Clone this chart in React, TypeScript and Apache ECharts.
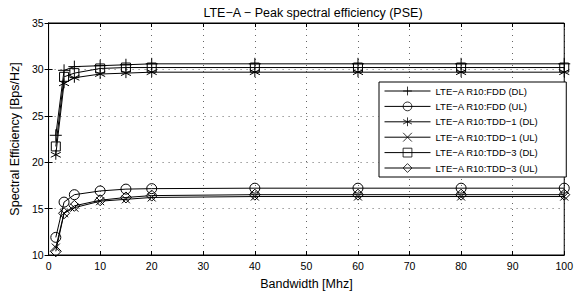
import React, { useEffect, useRef } from "react";
import * as echarts from "echarts";

const bandwidth = [1.4, 3, 5, 10, 15, 20, 40, 60, 80, 100];
const fddDL = [22.9, 29.9, 30.3, 30.4, 30.5, 30.6, 30.6, 30.6, 30.6, 30.6];
const fddUL = [11.9, 15.7, 16.5, 16.9, 17.1, 17.15, 17.2, 17.2, 17.2, 17.2];
const tdd1DL = [20.8, 28.5, 29.1, 29.5, 29.6, 29.7, 29.7, 29.7, 29.7, 29.7];
const tdd1UL = [10.8, 14.5, 15.1, 15.8, 16.0, 16.2, 16.3, 16.3, 16.3, 16.3];
const tdd3DL = [21.7, 29.2, 29.6, 30.1, 30.2, 30.2, 30.2, 30.2, 30.2, 30.2];
const tdd3UL = [10.4, 14.5, 15.3, 15.9, 16.2, 16.4, 16.5, 16.5, 16.5, 16.5];

const seriesNames = [
  "LTE\u2212A R10:FDD (DL)",
  "LTE\u2212A R10:FDD (UL)",
  "LTE\u2212A R10:TDD\u22121 (DL)",
  "LTE\u2212A R10:TDD\u22121 (UL)",
  "LTE\u2212A R10:TDD\u22123 (DL)",
  "LTE\u2212A R10:TDD\u22123 (UL)",
];
const seriesValues = [fddDL, fddUL, tdd1DL, tdd1UL, tdd3DL, tdd3UL];

const PLUS = "path://M0,-1L0,1M-1,0L1,0";
const CIRCLE = "path://M1,0A1,1 0 1 1 -1,0A1,1 0 1 1 1,0Z";
const STAR = "path://M0,-1L0,1M-0.87,-0.5L0.87,0.5M-0.87,0.5L0.87,-0.5";
const XMARK = "path://M-1,-1L1,1M-1,1L1,-1";
const SQUARE = "path://M-1,-1L1,-1L1,1L-1,1Z";
const DIAMOND = "path://M0,-1L1,0L0,1L-1,0Z";
const symbols = [PLUS, CIRCLE, STAR, XMARK, SQUARE, DIAMOND];
const symbolSizes = [12, 10, 10, 8, 9, 11];

const FONT = "Liberation Sans";

export default function App() {
  const ref = useRef<HTMLDivElement>(null);
  useEffect(() => {
    if (!ref.current) return;
    const chart = echarts.init(ref.current, null, { renderer: "svg" });
    const axisCommon = {
      axisLine: { show: true, lineStyle: { color: "#000", width: 1 } },
      axisTick: { show: true, inside: true, length: 4, lineStyle: { color: "#000" } },
    };
    const dotted = { show: true, lineStyle: { color: "#000", type: [1, 5], width: 1, opacity: 0.6 } };
    chart.setOption({
      animation: false,
      backgroundColor: "#fff",
      textStyle: { fontFamily: FONT, color: "#000" },
      title: {
        text: "LTE\u2212A \u2212 Peak spectral efficiency (PSE)",
        left: 308,
        textAlign: "center",
        top: 1,
        textStyle: { fontFamily: FONT, fontSize: 12.5, fontWeight: "normal", color: "#000" },
      },
      grid: {
        left: 47,
        right: 7,
        top: 23,
        bottom: 42,
        show: true,
        borderColor: "#000",
        borderWidth: 1,
        backgroundColor: "#fff",
      },
      legend: {
        orient: "vertical",
        left: 379,
        top: 82,
        backgroundColor: "#fff",
        borderColor: "#000",
        borderWidth: 1,
        borderRadius: 0,
        padding: [4, 28, 4, 5],
        itemWidth: 46,
        itemHeight: 11,
        itemGap: 5.4,
        data: seriesNames,
        lineStyle: { width: 1, color: "#000" },
        itemStyle: { borderWidth: 0.8, borderColor: "#000", color: "rgba(255,255,255,0)" },
        textStyle: { fontFamily: FONT, fontSize: 9.5, color: "#000" },
      },
      xAxis: [
        {
          type: "value",
          min: 0,
          max: 100,
          interval: 10,
          name: "Bandwidth [Mhz]",
          nameLocation: "middle",
          nameGap: 22,
          nameTextStyle: { fontFamily: FONT, fontSize: 12.5, color: "#000" },
          axisLabel: { fontFamily: FONT, fontSize: 10.5, color: "#000", margin: 5 },
          splitLine: dotted,
          ...axisCommon,
        },
        {
          type: "value",
          position: "top",
          min: 0,
          max: 100,
          interval: 10,
          axisLabel: { show: false },
          splitLine: { show: false },
          ...axisCommon,
        },
      ],
      yAxis: [
        {
          type: "value",
          min: 10,
          max: 35,
          interval: 5,
          name: "Spectral Efficiency [Bps/Hz]",
          nameLocation: "middle",
          nameGap: 20,
          nameTextStyle: { fontFamily: FONT, fontSize: 12.5, color: "#000" },
          axisLabel: { fontFamily: FONT, fontSize: 10.5, color: "#000", margin: 5 },
          splitLine: dotted,
          ...axisCommon,
        },
        {
          type: "value",
          position: "right",
          min: 10,
          max: 35,
          interval: 5,
          axisLabel: { show: false },
          splitLine: { show: false },
          ...axisCommon,
        },
      ],
      series: seriesNames.map((name, i) => ({
        name,
        type: "line",
        xAxisIndex: 0,
        yAxisIndex: 0,
        data: bandwidth.map((b, j) => [b, seriesValues[i][j]]),
        symbol: symbols[i],
        symbolSize: symbolSizes[i],
        showAllSymbol: true,
        lineStyle: { color: "#000", width: 1 },
        itemStyle: { color: "rgba(255,255,255,0)", borderColor: "#000", borderWidth: 1 },
        emphasis: { disabled: true },
      })),
    });
    return () => chart.dispose();
  }, []);
  return <div ref={ref} style={{ width: 576, height: 297, position: "absolute", left: 0, top: 0 }} />;
}
